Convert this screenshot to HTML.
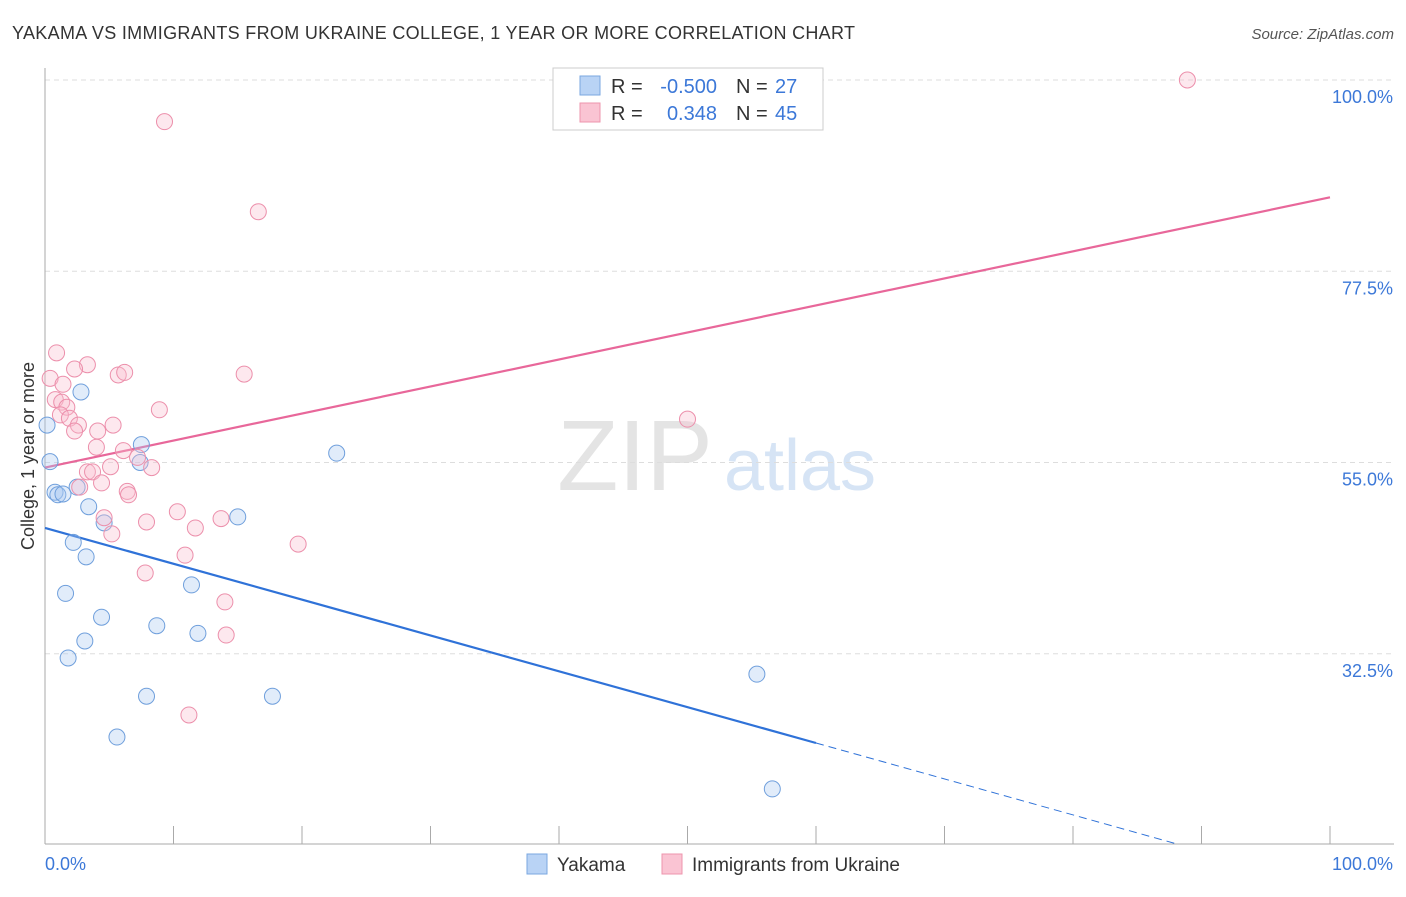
<!DOCTYPE html>
<html><head><meta charset="utf-8">
<style>
body{margin:0;background:#fff;font-family:"Liberation Sans",sans-serif;}
svg text{font-family:"Liberation Sans",sans-serif;}
</style></head>
<body>
<svg id="chart" width="1406" height="892" xmlns="http://www.w3.org/2000/svg">
<text x="12" y="39" font-size="18" fill="#333" textLength="843" lengthAdjust="spacing">YAKAMA VS IMMIGRANTS FROM UKRAINE COLLEGE, 1 YEAR OR MORE CORRELATION CHART</text>
<text x="1394" y="39" font-size="15" fill="#555" text-anchor="end" font-style="italic">Source: ZipAtlas.com</text>
<text transform="translate(34,456) rotate(-90)" font-size="18" fill="#333" text-anchor="middle">College, 1 year or more</text>
<g>
<text x="635" y="490" font-size="100" fill="#e4e4e4" text-anchor="middle" font-family="Liberation Serif, serif">ZIP</text>
<text x="800" y="490" font-size="72" fill="#d6e4f5" text-anchor="middle">atlas</text>
</g>
<g id="grid"></g>
<g id="axes"></g>
<g id="lines"></g>
<g id="pts"></g>
<g>
<rect x="553" y="68" width="270" height="62" fill="#fff" stroke="#ccc"/>
<rect x="580" y="76" width="20" height="19" fill="#b9d3f5" stroke="#7aa7e0"/>
<rect x="580" y="103" width="20" height="19" fill="#fac4d3" stroke="#ee95ad"/>
<text x="611" y="93" font-size="20" fill="#333">R =</text>
<text x="717" y="93" font-size="20" fill="#3c78d8" text-anchor="end">-0.500</text>
<text x="736" y="93" font-size="20" fill="#333">N =</text>
<text x="775" y="93" font-size="20" fill="#3c78d8">27</text>
<text x="611" y="120" font-size="20" fill="#333">R =</text>
<text x="717" y="120" font-size="20" fill="#3c78d8" text-anchor="end">0.348</text>
<text x="736" y="120" font-size="20" fill="#333">N =</text>
<text x="775" y="120" font-size="20" fill="#3c78d8">45</text>
</g>
<g>
<rect x="527" y="854" width="20" height="20" fill="#b9d3f5" stroke="#7aa7e0"/>
<text x="557" y="871" font-size="19" fill="#333">Yakama</text>
<rect x="662" y="854" width="20" height="20" fill="#fac4d3" stroke="#ee95ad"/>
<text x="692" y="871" font-size="19" fill="#333">Immigrants from Ukraine</text>
</g>
</svg>
<script>
const yTicks=[100,77.5,55,32.5];
const yTickLabels=["100.0%","77.5%","55.0%","32.5%"];
const xTickLabels=["0.0%","100.0%"];
const yakamaX=[0.16,0.39,0.78,1.0,1.4,2.8,2.5,3.4,2.2,3.2,4.6,7.5,7.4,1.6,4.4,1.8,3.1,8.7,11.4,11.9,15.0,7.9,17.7,5.6,22.7,55.4,56.6];
const yakamaY=[59.4,55.1,51.5,51.2,51.3,63.3,52.1,49.8,45.6,43.9,47.9,57.1,55.0,39.6,36.8,32.0,34.0,35.8,40.6,34.9,48.6,27.5,27.5,22.7,56.1,30.1,16.6];
const ukraineX=[88.9,9.3,16.6,0.9,0.4,3.3,2.3,1.4,5.7,6.2,15.5,0.8,1.3,1.7,1.2,1.9,2.6,2.3,5.3,4.1,8.9,4.0,6.1,7.2,8.3,5.1,3.3,3.7,2.7,4.4,6.4,6.5,10.3,4.6,13.7,7.9,11.7,5.2,10.9,19.7,7.8,14.0,14.1,11.2,50.0];
const ukraineY=[100,95.1,84.5,67.9,64.9,66.5,66.0,64.2,65.3,65.6,65.4,62.4,62.1,61.5,60.6,60.2,59.4,58.7,59.4,58.7,61.2,56.8,56.4,55.6,54.4,54.5,53.9,53.9,52.1,52.6,51.6,51.2,49.2,48.5,48.4,48.0,47.3,46.6,44.1,45.4,42.0,38.6,34.7,25.3,60.1];
const yakamaTrend=[[0,47.3],[60,22.0]];
const yakamaTrendExt=[[60,22.0],[87.9,10.2]];
const ukraineTrend=[[0,54.4],[100,86.2]];

const NS="http://www.w3.org/2000/svg";
const X=v=>45+v*12.85;
const Y=v=>80+(100-v)*8.5;
function mk(tag,attrs,parent){const e=document.createElementNS(NS,tag);for(const k in attrs)e.setAttribute(k,attrs[k]);document.getElementById(parent).appendChild(e);return e;}

yTicks.forEach((t,i)=>{
  const g=mk('line',{x1:45,x2:1394,y1:Y(t),y2:Y(t),stroke:'#ddd','stroke-dasharray':'5,4'},'grid');
  
  
  const l=mk('text',{x:1393,y:Y(t)+23,'font-size':18,fill:'#3c78d8','text-anchor':'end'},'axes');
  l.textContent=yTickLabels[i];
  
  
});
const ax=mk('line',{x1:45,x2:1394,y1:844,y2:844,stroke:'#aaa'},'axes');


const ay=mk('line',{x1:45,x2:45,y1:68,y2:844,stroke:'#aaa'},'axes');


for(let i=0;i<=10;i++){
  const t=mk('line',{x1:X(i*10),x2:X(i*10),y1:826,y2:844,stroke:'#aaa'},'axes');
  
  
}
[[0,'start',45],[100,'end',1393]].forEach((d,i)=>{
  const l=mk('text',{x:d[2],y:870,'font-size':18,fill:'#3c78d8','text-anchor':d[1]},'axes');
  l.textContent=xTickLabels[i];
  
  
});

function pts(xs,ys,fill,stroke,name){
  xs.forEach((x,i)=>{
    const c=mk('circle',{cx:X(x),cy:Y(ys[i]),r:8,fill:fill,'fill-opacity':0.35,stroke:stroke,'stroke-width':1},'pts');
    
    
  });
}
pts(yakamaX,yakamaY,'#a9c8f0','#6f9fdc','yakama-point');
pts(ukraineX,ukraineY,'#f8bccd','#ec8fab','ukraine-point');

const l1=mk('line',{x1:X(yakamaTrend[0][0]),y1:Y(yakamaTrend[0][1]),x2:X(yakamaTrend[1][0]),y2:Y(yakamaTrend[1][1]),stroke:'#2f72d8','stroke-width':2.2},'lines');


const l2=mk('line',{x1:X(yakamaTrendExt[0][0]),y1:Y(yakamaTrendExt[0][1]),x2:X(yakamaTrendExt[1][0]),y2:Y(yakamaTrendExt[1][1]),stroke:'#2f72d8','stroke-width':1,'stroke-dasharray':'8,5'},'lines');


const l3=mk('line',{x1:X(ukraineTrend[0][0]),y1:Y(ukraineTrend[0][1]),x2:X(ukraineTrend[1][0]),y2:Y(ukraineTrend[1][1]),stroke:'#e8679a','stroke-width':2.2},'lines');


</script>
</body></html>
